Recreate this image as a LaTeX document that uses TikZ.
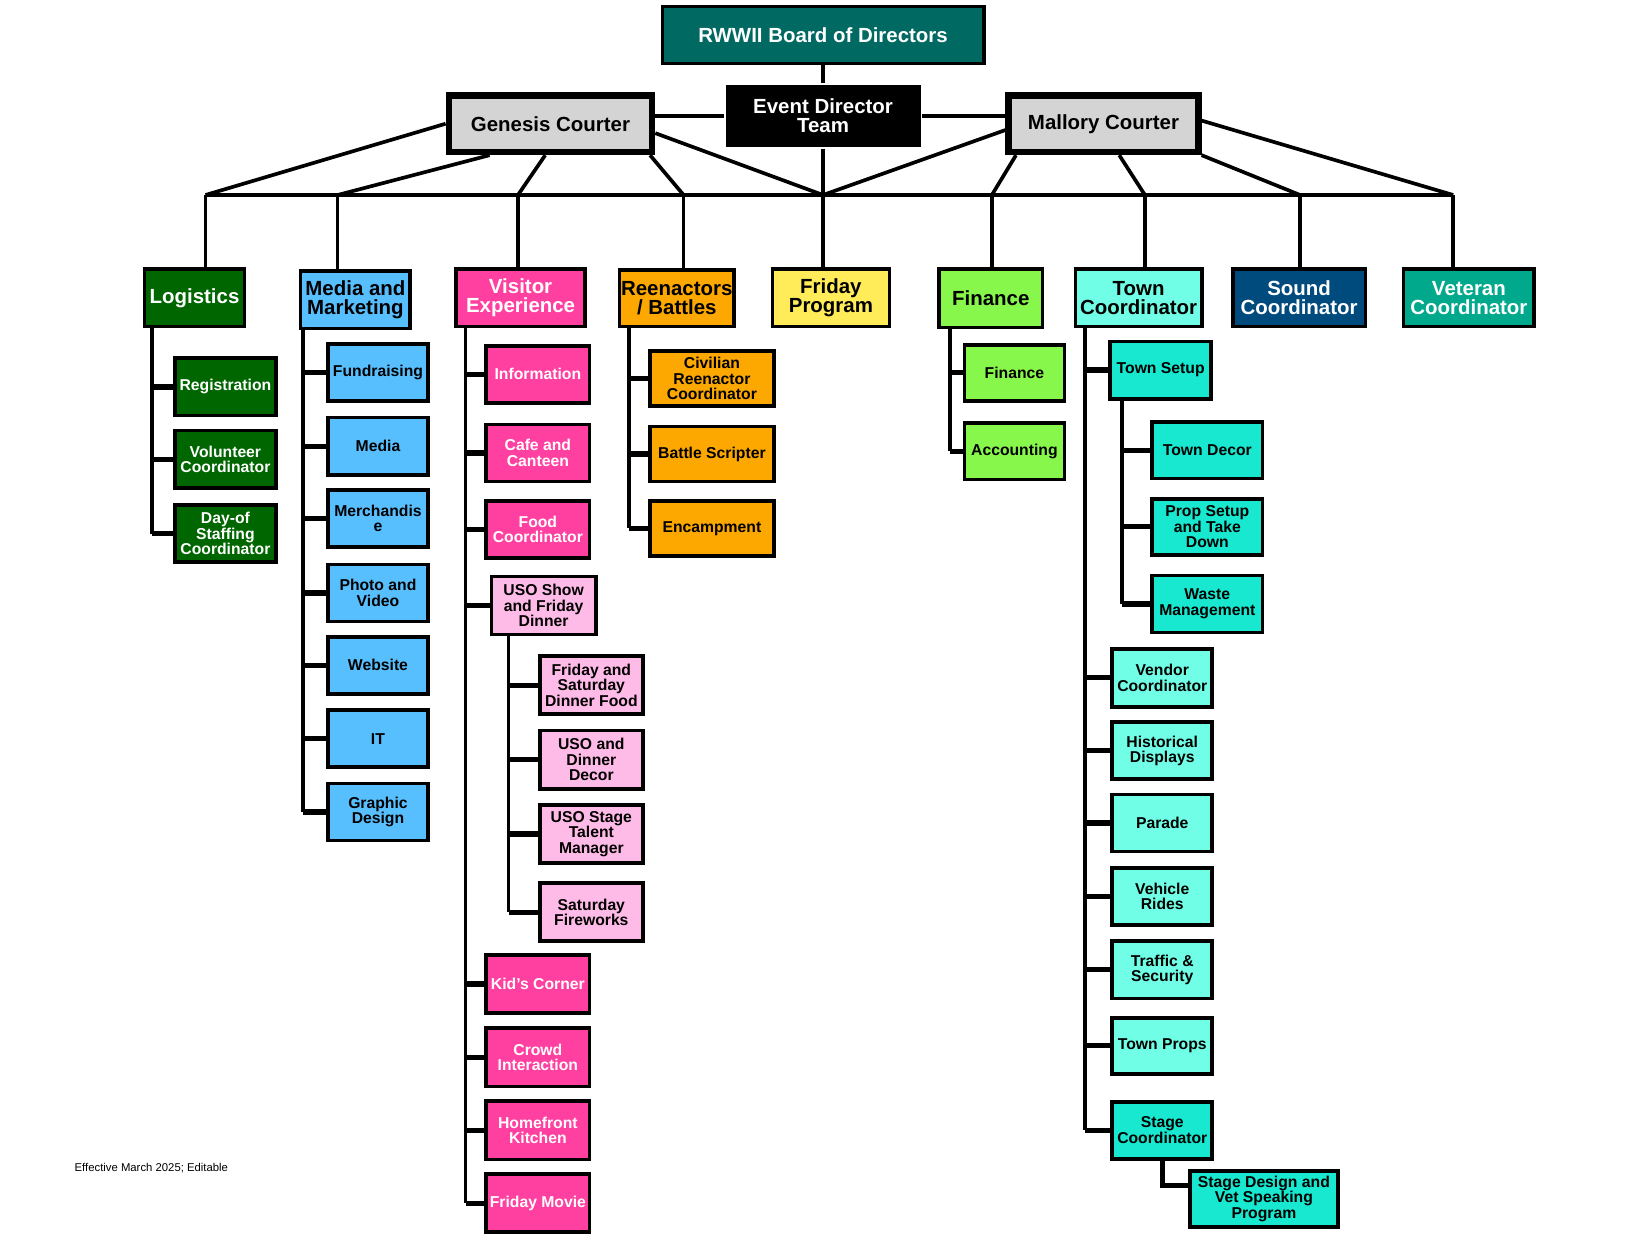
\documentclass[tikz,border=0pt]{standalone}
\usepackage{fontspec}
\setmainfont{Liberation Sans}
\usepackage{tikz}
\definecolor{boardteal}{RGB}{0,105,98}
\definecolor{courtgray}{RGB}{212,212,212}
\definecolor{logigreen}{RGB}{0,102,0}
\definecolor{mediablue}{RGB}{88,191,255}
\definecolor{visitpink}{RGB}{255,64,160}
\definecolor{usopink}{RGB}{255,187,232}
\definecolor{reenorange}{RGB}{252,168,0}
\definecolor{friyellow}{RGB}{255,236,88}
\definecolor{fingreen}{RGB}{136,247,76}
\definecolor{townaqua}{RGB}{112,255,230}
\definecolor{townturq}{RGB}{23,232,207}
\definecolor{soundnavy}{RGB}{0,75,125}
\definecolor{vetteal}{RGB}{0,168,140}

\begin{document}
\begin{tikzpicture}[x=1pt,y=-1pt]
\tikzset{box/.style={draw=black,line width=3.5pt,align=center,inner sep=0pt,text=black},
 head/.style={box,minimum height=54.5,font=\bfseries\fontsize{19.5}{18.5}\selectfont},
 sub/.style={box,minimum height=54.5,font=\bfseries\fontsize{15}{14.8}\selectfont},
 link/.style={line width=3.5pt},
 stub/.style={line width=5pt}}
\useasboundingbox (0,0) rectangle (1568,1177);

% top of the chart
\node[box,fill=boardteal,text=white,line width=3pt,minimum width=307,minimum height=54,font=\bfseries\fontsize{19.5}{18.5}\selectfont] (board) at (785,33.5) {RWWII Board of Directors};
\node[head,fill=black,text=white,draw=none,minimum width=186,minimum height=59] (event) at (785,110.5) {Event Director\\Team};
\node[head,fill=courtgray,line width=6pt,minimum width=194,minimum height=54] (genesis) at (525,118) {Genesis Courter};
\node[head,fill=courtgray,line width=6pt,minimum width=181,minimum height=54] (mallory) at (1052.5,118) {Mallory Courter};

% teams
\node[head,fill=logigreen,text=white,minimum width=95.5] (logi) at (185.5,284) {Logistics};
\node[head,fill=mediablue,minimum width=104.5] (media) at (339,286) {Media and\\Marketing};
\node[head,fill=visitpink,text=white,minimum width=123.5] (visit) at (496.5,284) {Visitor\\Experience};
\node[head,fill=reenorange,minimum width=109.5,minimum height=53.5] (reen) at (645.5,284.5) {Reenactors\\/ Battles};
\node[head,fill=friyellow,minimum width=111.5] (friday) at (792.5,284) {Friday\\Program};
\node[head,fill=fingreen,minimum width=98.5,minimum height=55.5] (fin) at (945,284.5) {Finance};
\node[head,fill=townaqua,minimum width=120.5] (town) at (1086,284) {Town\\Coordinator};
\node[head,fill=soundnavy,text=white,minimum width=126.5] (sound) at (1239,284) {Sound\\Coordinator};
\node[head,fill=vetteal,text=white,minimum width=124.5] (vet) at (1401,284) {Veteran\\Coordinator};

% logistics
\node[sub,fill=logigreen,text=white,minimum width=96.5] (reg) at (215,369) {Registration};
\node[sub,fill=logigreen,text=white,minimum width=96.5] (vol) at (215,438) {Volunteer\\Coordinator};
\node[sub,fill=logigreen,text=white,minimum width=96.5] (dayof) at (215,509) {Day-of\\Staffing\\Coordinator};

% media and marketing
\node[sub,fill=mediablue,minimum width=95.5] (fund) at (360.5,355.5) {Fundraising};
\node[sub,fill=mediablue,minimum width=95.5] (mdia) at (360.5,425.5) {Media};
\node[sub,fill=mediablue,minimum width=95.5] (merch) at (360.5,494.5) {Merchandis\\e};
\node[sub,fill=mediablue,minimum width=95.5] (photo) at (360.5,565.5) {Photo and\\Video};
\node[sub,fill=mediablue,minimum width=95.5] (web) at (360.5,634.5) {Website};
\node[sub,fill=mediablue,minimum width=95.5] (it) at (360.5,704.5) {IT};
\node[sub,fill=mediablue,minimum width=95.5] (graph) at (360.5,774.5) {Graphic\\Design};

% visitor experience
\node[sub,fill=visitpink,text=white,minimum width=98.5] (info) at (513,357) {Information};
\node[sub,fill=visitpink,text=white,minimum width=98.5] (cafe) at (513,432) {Cafe and\\Canteen};
\node[sub,fill=visitpink,text=white,minimum width=98.5] (food) at (513,505) {Food\\Coordinator};
\node[sub,fill=usopink,minimum width=99.5,minimum height=55.5] (uso) at (518.5,577.5) {USO Show\\and Friday\\Dinner};
\node[sub,fill=usopink,minimum width=98.5,minimum height=55.5] (dinner) at (564,653.5) {Friday and\\Saturday\\Dinner Food};
\node[sub,fill=usopink,minimum width=98.5,minimum height=55.5] (decor) at (564,724.5) {USO and\\Dinner\\Decor};
\node[sub,fill=usopink,minimum width=98.5,minimum height=55.5] (talent) at (564,795.5) {USO Stage\\Talent\\Manager};
\node[sub,fill=usopink,minimum width=98.5,minimum height=55.5] (fire) at (564,870) {Saturday\\Fireworks};
\node[sub,fill=visitpink,text=white,minimum width=98.5,minimum height=55.5] (kids) at (513,938.5) {Kid’s Corner};
\node[sub,fill=visitpink,text=white,minimum width=98.5,minimum height=55.5] (crowd) at (513,1008.5) {Crowd\\Interaction};
\node[sub,fill=visitpink,text=white,minimum width=98.5,minimum height=55.5] (kitchen) at (513,1078) {Homefront\\Kitchen};
\node[sub,fill=visitpink,text=white,minimum width=98.5,minimum height=55.5] (movie) at (513,1147.5) {Friday Movie};

% reenactors
\node[sub,fill=reenorange,minimum width=118.5,minimum height=52.5] (civil) at (679,361) {Civilian\\Reenactor\\Coordinator};
\node[sub,fill=reenorange,minimum width=118.5,minimum height=52.5] (battle) at (679,433) {Battle Scripter};
\node[sub,fill=reenorange,minimum width=118.5,minimum height=52.5] (camp) at (679,504) {Encampment};

% finance
\node[sub,fill=fingreen,minimum width=95.5,minimum height=53.5] (fin2) at (967.5,355.5) {Finance};
\node[sub,fill=fingreen,minimum width=95.5,minimum height=53.5] (acct) at (967.5,430.5) {Accounting};

% town
\node[sub,fill=townturq,minimum width=96.5] (setup) at (1107,353) {Town Setup};
\node[sub,fill=townturq,minimum width=105.5,minimum height=53.5] (tdecor) at (1151.5,429.5) {Town Decor};
\node[sub,fill=townturq,minimum width=105.5,minimum height=53.5] (prop) at (1151.5,502.5) {Prop Setup\\and Take\\Down};
\node[sub,fill=townturq,minimum width=105.5,minimum height=54.5] (waste) at (1151.5,576) {Waste\\Management};
\node[sub,fill=townaqua,minimum width=95.5,minimum height=55.5] (vendor) at (1108.5,646.5) {Vendor\\Coordinator};
\node[sub,fill=townaqua,minimum width=95.5] (hist) at (1108.5,716) {Historical\\Displays};
\node[sub,fill=townaqua,minimum width=95.5] (parade) at (1108.5,785) {Parade};
\node[sub,fill=townaqua,minimum width=95.5] (rides) at (1108.5,855) {Vehicle\\Rides};
\node[sub,fill=townaqua,minimum width=95.5] (traffic) at (1108.5,925) {Traffic \&\\Security};
\node[sub,fill=townaqua,minimum width=95.5,minimum height=53.5] (props) at (1108.5,997.5) {Town Props};
\node[sub,fill=townturq,minimum width=95.5] (stage) at (1108.5,1078) {Stage\\Coordinator};
\node[sub,fill=townturq,minimum width=141.5,minimum height=53.5] (sdesign) at (1205.5,1143.5) {Stage Design and\\Vet Speaking\\Program};

\node[anchor=west,inner sep=0pt,font=\fontsize{10.8}{12}\selectfont] (note) at (71,1114) {Effective March 2025; Editable};

% top links and bus
\draw[link] (board) -- (event);
\draw[link] (genesis.east |- event.west) -- (event.west);
\draw[link] (event.east) -- (mallory.west |- event.east);
\draw[link] (event.south) -- (event.south |- friday.north);
\coordinate (hub) at (785,186);
\coordinate (b1) at (196,186); \coordinate (b2) at (322,186); \coordinate (b3) at (494,186);
\coordinate (b4) at (652,186); \coordinate (b6) at (946,186); \coordinate (b7) at (1092,186);
\coordinate (b8) at (1240,186); \coordinate (b9) at (1386,186);
\draw[link] (b1) -- (b9);
\draw[link] (genesis.west) -- (b1);
\draw[link] ([xshift=42]genesis.south west) -- (b2);
\draw[link] ([xshift=-5]genesis.south) -- (b3);
\draw[link] ([xshift=-5]genesis.south east) -- (b4);
\draw[link] ([yshift=-9]genesis.east) -- (hub);
\draw[link] ([yshift=-6]mallory.west) -- (hub);
\draw[link] ([xshift=10]mallory.south west) -- (b6);
\draw[link] ([xshift=15]mallory.south) -- (b7);
\draw[link] (mallory.south east) -- (b8);
\draw[link] ([yshift=3]mallory.east) -- (b9);
\draw[link] (b1) -- (b1 |- logi.north) (b2) -- (b2 |- media.north) (b3) -- (b3 |- visit.north)
 (b4) -- (b4 |- reen.north) (b6) -- (b6 |- fin.north) (b7) -- (b7 |- town.north)
 (b8) -- (b8 |- sound.north) (b9) -- (b9 |- vet.north);

% combs
\coordinate (logtr) at (145,313);
\draw[link] (logtr) -- (logtr |- dayof.west);
\draw[stub] (logtr |- reg.west) -- (reg.west) (logtr |- vol.west) -- (vol.west) (logtr |- dayof.west) -- (dayof.west);
\coordinate (medtr) at (289,315);
\draw[link] (medtr) -- (medtr |- graph.west);
\draw[stub] (medtr |- fund.west) -- (fund.west) (medtr |- mdia.west) -- (mdia.west) (medtr |- merch.west) -- (merch.west)
 (medtr |- photo.west) -- (photo.west) (medtr |- web.west) -- (web.west) (medtr |- it.west) -- (it.west) (medtr |- graph.west) -- (graph.west);
\coordinate (vistr) at (444,313);
\draw[link] (vistr) -- (vistr |- movie.west);
\draw[stub] (vistr |- info.west) -- (info.west) (vistr |- cafe.west) -- (cafe.west) (vistr |- food.west) -- (food.west)
 (vistr |- uso.west) -- (uso.west) (vistr |- kids.west) -- (kids.west) (vistr |- crowd.west) -- (crowd.west)
 (vistr |- kitchen.west) -- (kitchen.west) (vistr |- movie.west) -- (movie.west);
\coordinate (usotr) at (485,607);
\draw[link] (usotr) -- (usotr |- fire.west);
\draw[stub] (usotr |- dinner.west) -- (dinner.west) (usotr |- decor.west) -- (decor.west) (usotr |- talent.west) -- (talent.west) (usotr |- fire.west) -- (fire.west);
\coordinate (reentr) at (600,313);
\draw[link] (reentr) -- (reentr |- camp.west);
\draw[stub] (reentr |- civil.west) -- (civil.west) (reentr |- battle.west) -- (battle.west) (reentr |- camp.west) -- (camp.west);
\coordinate (fintr) at (906,314);
\draw[link] (fintr) -- (fintr |- acct.west);
\draw[stub] (fintr |- fin2.west) -- (fin2.west) (fintr |- acct.west) -- (acct.west);
\coordinate (towntr) at (1035,313);
\draw[link] (towntr) -- (towntr |- stage.west);
\draw[stub] (towntr |- setup.west) -- (setup.west) (towntr |- vendor.west) -- (vendor.west) (towntr |- hist.west) -- (hist.west)
 (towntr |- parade.west) -- (parade.west) (towntr |- rides.west) -- (rides.west) (towntr |- traffic.west) -- (traffic.west)
 (towntr |- props.west) -- (props.west) (towntr |- stage.west) -- (stage.west);
\coordinate (setuptr) at (1070,382);
\draw[link] (setuptr) -- (setuptr |- waste.west);
\draw[stub] (setuptr |- tdecor.west) -- (tdecor.west) (setuptr |- prop.west) -- (prop.west) (setuptr |- waste.west) -- (waste.west);
\draw[stub] (stage.south) |- ([yshift=13]sdesign.west);

\end{tikzpicture}
\end{document}
